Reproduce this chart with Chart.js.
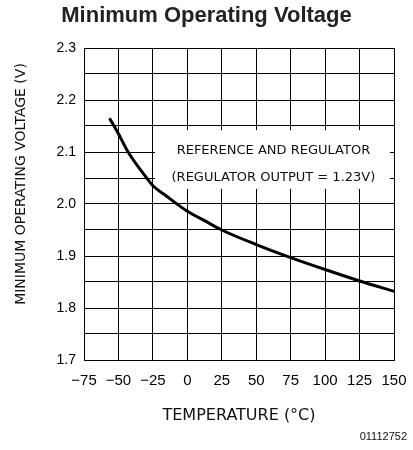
<!DOCTYPE html>
<html>
<head>
<meta charset="utf-8">
<script src="https://cdn.jsdelivr.net/npm/chart.js@4.4.1/dist/chart.umd.min.js"></script>
<style>
    html, body { margin: 0; padding: 0; background: #fff; }
    #wrap { width: 413px; height: 450px; }
</style>
</head>
<body>
<div id="wrap"><canvas id="voltChart" width="413" height="450"></canvas></div>
<script>
    // values (temperature in °C, voltage in V)
    const temps = [-56.5, -50, -43, -29.5, -25, -15, -7.5, 0, 12.5, 25, 50, 75, 100, 125, 150];
    const volts = [2.165, 2.135, 2.1, 2.05, 2.035, 2.015, 2.0, 1.986, 1.968, 1.95, 1.922, 1.897, 1.874, 1.852, 1.832];

    const xMin = -75, xMax = 150, xStep = 25;
    const yMin = 1.7, yMax = 2.3, yStep = 0.05;

    const chartTitle = 'Minimum Operating Voltage';
    const xTitle = 'TEMPERATURE (°C)';
    const yTitle = 'MINIMUM OPERATING VOLTAGE (V)';
    const noteLines = ['REFERENCE AND REGULATOR', '(REGULATOR OUTPUT = 1.23V)'];
    const figNumber = '01112752';

    // white label box and the extra texts
    const textPlugin = {
        id: 'textPlugin',
        beforeDatasetsDraw(chart) {
            const { ctx, scales: { x, y } } = chart;
            const left = x.getPixelForValue(-23.5);
            const right = x.getPixelForValue(147);
            const top = y.getPixelForValue(2.142);
            const bottom = y.getPixelForValue(2.029);
            ctx.save();
            ctx.fillStyle = '#fff';
            ctx.fillRect(left, top, right - left, bottom - top);
            ctx.fillStyle = '#111';
            ctx.font = '13px "DejaVu Sans"';
            ctx.textAlign = 'center';
            ctx.textBaseline = 'middle';
            const cx = (left + right) / 2 + 1;
            ctx.fillText(noteLines[0], cx, y.getPixelForValue(2.102));
            ctx.fillText(noteLines[1], cx, y.getPixelForValue(2.05));
            ctx.restore();
        },
        afterDraw(chart) {
            const { ctx } = chart;
            ctx.save();
            ctx.fillStyle = '#111';
            ctx.font = '14px "DejaVu Sans"';
            ctx.textAlign = 'center';
            ctx.textBaseline = 'middle';
            ctx.translate(21, 184);
            ctx.rotate(-Math.PI / 2);
            ctx.fillText(yTitle, 0, 0);
            ctx.restore();

            ctx.save();
            ctx.fillStyle = '#111';
            ctx.font = '11px "Liberation Sans"';
            ctx.textAlign = 'right';
            ctx.textBaseline = 'middle';
            ctx.fillText(figNumber, 407, 437);
            ctx.restore();
        }
    };

    const ctx = document.getElementById('voltChart').getContext('2d');
    new Chart(ctx, {
        type: 'line',
        data: {
            datasets: [{
                data: temps.map((t, i) => ({ x: t, y: volts[i] })),
                borderColor: '#000',
                borderWidth: 3,
                pointRadius: 0,
                cubicInterpolationMode: 'monotone',
                fill: false
            }]
        },
        options: {
            responsive: false,
            animation: false,
            layout: { padding: 0 },
            plugins: {
                legend: { display: false },
                tooltip: { enabled: false },
                title: {
                    display: true,
                    text: chartTitle,
                    color: '#222',
                    font: { family: '"Liberation Sans", Arial', size: 22, weight: 'bold', lineHeight: 1.2 },
                    padding: { top: 3, bottom: 18.6 }
                }
            },
            scales: {
                x: {
                    type: 'linear',
                    min: xMin,
                    max: xMax,
                    afterFit: (scale) => {
                        scale.height = 90;
                        scale.paddingLeft = 0;
                        scale.paddingRight = 0;
                    },
                    ticks: {
                        stepSize: xStep,
                        color: '#000',
                        padding: 12,
                        maxRotation: 0,
                        font: { family: '"Liberation Sans", Arial', size: 15 },
                        callback: (v) => String(v).replace('-', '\u2212')
                    },
                    grid: { color: '#000', lineWidth: 1, drawTicks: false },
                    border: { color: '#000', width: 1 },
                    title: {
                        display: true,
                        text: xTitle,
                        color: '#111',
                        font: { family: '"DejaVu Sans"', size: 16, lineHeight: 1.2 },
                        padding: { top: 0, bottom: 25 }
                    }
                },
                y: {
                    min: yMin,
                    max: yMax,
                    afterFit: (scale) => { scale.width = 84; },
                    ticks: {
                        stepSize: yStep,
                        color: '#000',
                        padding: 8,
                        font: { family: '"Liberation Sans", Arial', size: 14 },
                        callback: (v) => (Math.round(v * 100) % 10 === 0 ? v.toFixed(1) : '')
                    },
                    grid: { color: '#000', lineWidth: 1, drawTicks: false },
                    border: { color: '#000', width: 1 }
                },
                // empty axis on the right only to keep the margin there
                yRight: {
                    position: 'right',
                    afterFit: (scale) => { scale.width = 19; },
                    grid: { display: false },
                    border: { display: false },
                    ticks: { display: false }
                }
            }
        },
        plugins: [textPlugin]
    });
</script>
</body>
</html>
